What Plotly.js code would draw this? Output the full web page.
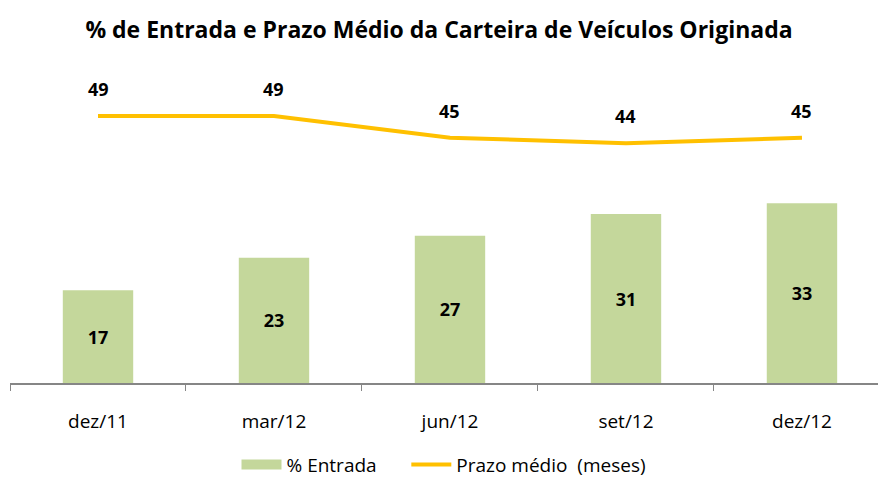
<!DOCTYPE html>
<html>
<head>
<meta charset="utf-8">
<script src="https://cdn.plot.ly/plotly-3.0.1.min.js"></script>
<style>html,body{margin:0;padding:0;background:#fff;}#chart{width:878px;height:478px;}</style>
</head>
<body>
<div id="chart"></div>
<script>
var categories = ["dez/11", "mar/12", "jun/12", "set/12", "dez/12"];
var entrada = [17, 23, 27, 31, 33];
var prazo = [49, 49, 45, 44, 45];
var entradaName = "% Entrada";
var prazoName = "Prazo médio&nbsp;&nbsp;(meses)";

var FONT = "'Open Sans', Lato, sans-serif";
var green = "#C4D79B";
var yellow = "#FFC000";

var traces = [
  {
    type: "bar", x: categories, y: entrada, name: entradaName,
    marker: {color: green}, showlegend: false, legendgroup: "e",
    text: entrada.map(String), textposition: "inside", insidetextanchor: "middle",
    textfont: {family: FONT, size: 18, color: "#000", weight: "bold"},
    hoverinfo: "x+y"
  },
  {
    type: "scatter", mode: "lines", x: categories, y: entrada.map(function(){return null;}),
    name: entradaName + "&nbsp;&nbsp;&nbsp;&nbsp;&nbsp;", legendgroup: "e",
    line: {color: green, width: 13}, hoverinfo: "skip"
  },
  {
    type: "scatter", mode: "lines", x: categories, y: prazo, name: prazoName,
    line: {color: yellow, width: 4}, hoverinfo: "x+y"
  }
];

var annotations = categories.map(function(c, i){
  return {x: c, y: prazo[i], xref: "x", yref: "y", text: String(prazo[i]), showarrow: false,
    yshift: 27, font: {family: FONT, size: 18, color: "#000", weight: "bold"}};
});

var layout = {
  width: 878, height: 478,
  margin: {l: 10, r: 0, t: 56, b: 95, autoexpand: false},
  paper_bgcolor: "#fff", plot_bgcolor: "#fff",
  font: {family: FONT, color: "#000"},
  title: {text: "<b>% de Entrada e Prazo Médio da Carteira de Veículos Originada</b>",
    font: {family: FONT, size: 23, color: "#000"}, x: 0.5, xanchor: "center",
    y: 1 - 30/478, yanchor: "middle", yref: "container"},
  bargap: 0.6,
  xaxis: {type: "category", range: [-0.5, 4.432], showline: true, linecolor: "#868686", linewidth: 2,
    ticks: "outside", tickson: "boundaries", ticklen: 6, tickcolor: "#868686", tickwidth: 1,
    tickfont: {family: FONT, size: 19, color: "#000"}, ticklabelstandoff: 20,
    showgrid: false, zeroline: false, fixedrange: true, automargin: false},
  yaxis: {range: [0, 60], visible: false, showgrid: false, zeroline: false, fixedrange: true},
  legend: {orientation: "h", x: 0.5, xanchor: "center", y: -0.25, yanchor: "middle",
    font: {family: FONT, size: 19, color: "#000"}, traceorder: "normal", itemwidth: 40},
  annotations: annotations,
  showlegend: true
};

Plotly.newPlot("chart", traces, layout, {displayModeBar: false, staticPlot: true});
</script>
</body>
</html>
